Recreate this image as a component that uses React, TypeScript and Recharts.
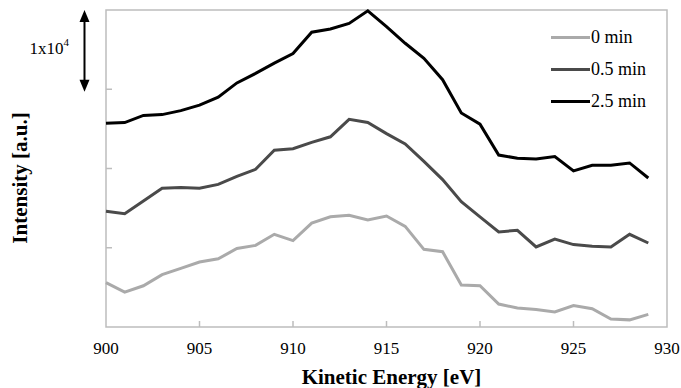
import { LineChart, Line, XAxis, YAxis, Legend, ReferenceArea, ReferenceLine } from "recharts";

const energies = [
  900, 901, 902, 903, 904, 905, 906, 907, 908, 909, 910, 911, 912, 913, 914,
  915, 916, 917, 918, 919, 920, 921, 922, 923, 924, 925, 926, 927, 928, 929,
];

const min0 = [
  5600, 4400, 5200, 6600, 7400, 8200, 8600, 9900, 10300, 11700, 10900, 13100, 13900, 14100, 13500,
  14000, 12700, 9800, 9500, 5300, 5200, 2900, 2400, 2200, 1900, 2700, 2300, 1000, 900, 1600,
];

const min05 = [
  14600, 14300, 15900, 17500, 17600, 17500, 18000, 19000, 19900, 22300, 22500, 23300, 24000, 26200, 25800,
  24400, 23100, 20900, 18600, 15800, 13900, 12000, 12200, 10100, 11100, 10400, 10200, 10100, 11700, 10600,
];

const min25 = [
  25700, 25800, 26700, 26800, 27300, 28000, 29000, 30800, 32000, 33300, 34500, 37200, 37600, 38300, 39900,
  37900, 35800, 33900, 31200, 27000, 25600, 21700, 21300, 21200, 21500, 19700, 20400, 20400, 20700, 18800,
];

const xTicks = [900, 905, 910, 915, 920, 925, 930];
const yTicks = [0, 10000, 20000, 30000, 40000];

const data = energies.map((e, i) => ({
  energy: e,
  m0: min0[i],
  m05: min05[i],
  m25: min25[i],
}));

const FONT = '"Liberation Serif", "Times New Roman", serif';
const FRAME = "#bdbdbd";

const series = [
  { key: "m0", name: "0 min", color: "#aaaaaa" },
  { key: "m05", name: "0.5 min", color: "#4a4a4a" },
  { key: "m25", name: "2.5 min", color: "#000000" },
];

function XTick({ x, y, payload }: any) {
  const inner = payload.value !== 900 && payload.value !== 930;
  return (
    <g>
      {inner && <line x1={x} x2={x} y1={y} y2={y - 6} stroke={FRAME} strokeWidth={1.5} />}
      <text x={x} y={y + 27} textAnchor="middle" fontSize={17} fontFamily={FONT} fill="#000">
        {payload.value}
      </text>
    </g>
  );
}

function YTick({ x, y, payload }: any) {
  if (payload.value === 0 || payload.value === 40000) return null;
  return <line x1={x} x2={x + 6} y1={y} y2={y} stroke={FRAME} strokeWidth={1.5} />;
}

function ScaleArrow({ x1, y1, y2 }: any) {
  const top = Math.min(y1, y2);
  const bottom = Math.max(y1, y2);
  return (
    <g>
      <line x1={x1} x2={x1} y1={top + 8} y2={bottom - 8} stroke="#000" strokeWidth={2} />
      <polygon points={`${x1},${top} ${x1 - 5},${top + 12} ${x1 + 5},${top + 12}`} fill="#000" />
      <polygon points={`${x1},${bottom} ${x1 - 5},${bottom - 12} ${x1 + 5},${bottom - 12}`} fill="#000" />
      <text x={x1 - 55} y={top + 44} fontSize={17} fontFamily={FONT} fill="#000">
        1x10
        <tspan fontSize={11} dy={-8}>4</tspan>
      </text>
    </g>
  );
}

function LegendBox() {
  return (
    <div style={{ fontFamily: FONT, fontSize: 18, color: "#000" }}>
      {series.map((s) => (
        <div key={s.key} style={{ display: "flex", alignItems: "center", height: 32 }}>
          <div style={{ width: 39, height: 3, background: s.color }} />
          <span style={{ marginLeft: 1 }}>{s.name}</span>
        </div>
      ))}
    </div>
  );
}

export default function App() {
  return (
    <div style={{ position: "absolute", left: 0, top: 0, background: "#fff" }}>
      <LineChart width={681} height={388} data={data} margin={{ top: 10, right: 14, bottom: 1, left: 0 }}>
        <ReferenceArea
          x1={900}
          x2={930}
          y1={0}
          y2={40000}
          fill="none"
          stroke={FRAME}
          strokeWidth={1.5}
          ifOverflow="visible"
        />
        <XAxis
          dataKey="energy"
          type="number"
          domain={[900, 930]}
          ticks={xTicks}
          interval={0}
          axisLine={false}
          tickLine={false}
          tickSize={0}
          tickMargin={0}
          height={60}
          tick={<XTick />}
          label={(props: any) => {
            const vb = props.viewBox;
            return (
              <text
                x={vb.x + vb.width / 2 + 5}
                y={384}
                textAnchor="middle"
                fontSize={21}
                fontWeight="bold"
                fontFamily={FONT}
                fill="#000"
              >
                Kinetic Energy [eV]
              </text>
            );
          }}
        />
        <YAxis
          type="number"
          domain={[0, 40000]}
          ticks={yTicks}
          axisLine={false}
          tickLine={false}
          tickSize={0}
          tickMargin={0}
          width={106}
          tick={<YTick />}
          label={() => (
            <text
              x={27}
              y={178}
              transform="rotate(-90, 27, 178)"
              textAnchor="middle"
              fontSize={21}
              fontWeight="bold"
              fontFamily={FONT}
              fill="#000"
            >
              Intensity [a.u.]
            </text>
          )}
        />
        <ReferenceLine
          segment={[
            { x: 898.85, y: 29700 },
            { x: 898.85, y: 40000 },
          ]}
          ifOverflow="visible"
          shape={<ScaleArrow />}
        />
        <Legend
          layout="horizontal"
          verticalAlign="middle"
          align="center"
          wrapperStyle={{ left: 551, top: 21, width: "auto" }}
          content={<LegendBox />}
        />
        {series.map((s) => (
          <Line
            key={s.key}
            dataKey={s.key}
            name={s.name}
            stroke={s.color}
            strokeWidth={3}
            dot={false}
            activeDot={false}
            isAnimationActive={false}
          />
        ))}
      </LineChart>
    </div>
  );
}
